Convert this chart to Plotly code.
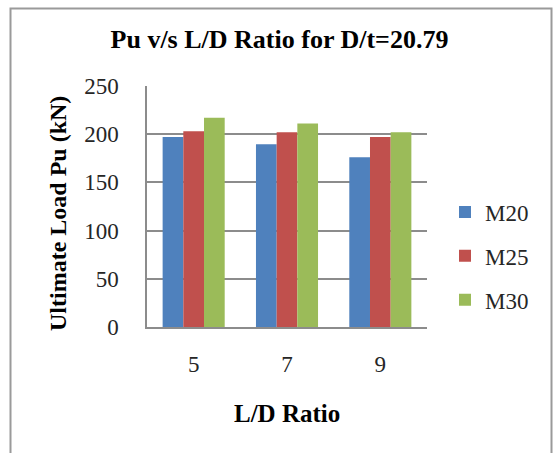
import plotly.graph_objects as go

categories = ["5", "7", "9"]
m20 = [197, 189.5, 176]
m25 = [203, 202, 197]
m30 = [217, 211, 202]
series_names = ["M20", "M25", "M30"]
colors = ["#4F81BD", "#C0504D", "#9BBB59"]

W, H = 559, 453
L, R, T, B = 147, 427, 86, 327

fig = go.Figure()
for i, (name, vals) in enumerate(zip(series_names, [m20, m25, m30])):
    fig.add_trace(go.Bar(
        x=categories, y=vals, name=name, legendgroup=name,
        marker=dict(color=colors[i], line=dict(width=0)),
    ))

def px_x(p):
    return (p - L) / (R - L)

def px_y(p):
    return (B - p) / (B - T)

fig.update_layout(
    width=W, height=H,
    margin=dict(l=L, r=W - R, t=T, b=H - B),
    paper_bgcolor="white", plot_bgcolor="white",
    font=dict(family="Liberation Serif", size=23, color="#262626"),
    barmode="group", bargap=0.335, bargroupgap=0,
    title=dict(text="<b>Pu v/s L/D Ratio for D/t=20.79</b>",
               x=0.5, xanchor="center", y=1 - 39 / H, yanchor="middle",
               font=dict(size=26, color="#000")),
    xaxis=dict(type="category", showgrid=False, showline=True,
               linecolor="#8c8c8c", linewidth=1.5, ticks="",
               ticklabelstandoff=16, tickfont=dict(size=23)),
    yaxis=dict(range=[0, 250], dtick=50, showgrid=True, gridcolor="#8c8c8c",
               gridwidth=1.5, showline=True, linecolor="#8c8c8c", linewidth=1.5,
               zeroline=False, ticks="", ticklabelstandoff=22,
               tickfont=dict(size=23)),
    legend=dict(x=px_x(445), xanchor="left", y=px_y(256), yanchor="middle",
                traceorder="grouped", tracegroupgap=11,
                font=dict(size=23), bgcolor="rgba(0,0,0,0)"),
    showlegend=True,
)

fig.add_annotation(text="<b>L/D Ratio</b>", xref="paper", yref="paper",
                   x=0.5, y=px_y(413), xanchor="center", yanchor="middle",
                   showarrow=False, font=dict(size=25, color="#000"))
fig.add_annotation(text="<b>Ultimate Load Pu (kN)</b>", xref="paper", yref="paper",
                   x=px_x(58), y=px_y(214), xanchor="center", yanchor="middle",
                   textangle=-90, showarrow=False, font=dict(size=24, color="#000"))

fig.add_shape(type="rect", xref="paper", yref="paper",
              x0=px_x(10.5), x1=px_x(551.5), y0=px_y(470), y1=px_y(8.5),
              line=dict(color="#9a9a9a", width=2), fillcolor="rgba(0,0,0,0)",
              layer="below")

fig.write_html("out.html")
